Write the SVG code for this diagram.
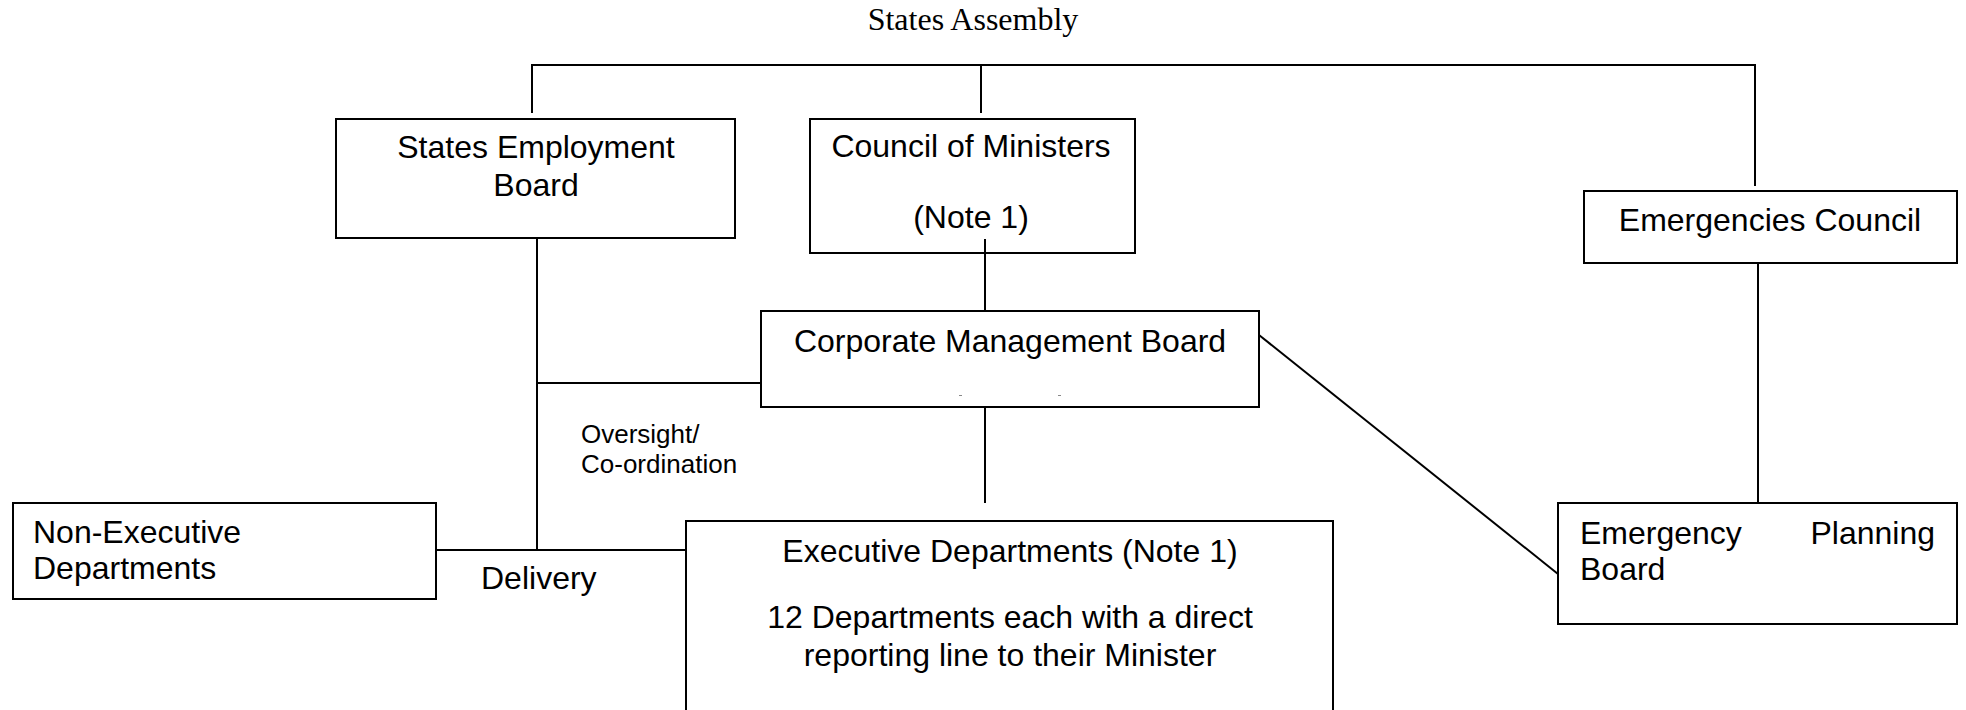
<svg xmlns="http://www.w3.org/2000/svg" width="1966" height="710" viewBox="0 0 1966 710">
<style>
.box{fill:#fff;stroke:#000;stroke-width:2}
.ln{fill:none;stroke:#000;stroke-width:2}
.t{font-family:"Liberation Sans",Arial,sans-serif;font-size:32px;fill:#000}
.c{text-anchor:middle}
.s{font-family:"Liberation Sans",Arial,sans-serif;font-size:26px;fill:#000}
.tt{font-family:"Liberation Serif","Times New Roman",serif;font-size:32px;fill:#000;text-anchor:middle}
</style>
<rect width="1966" height="710" fill="#fff"/>
<g id="connectors">
<polyline class="ln" points="532,113 532,65 1755,65 1755,186"/>
<line class="ln" x1="981" y1="65" x2="981" y2="113"/>
<line class="ln" x1="985" y1="239" x2="985" y2="311"/>
<line class="ln" x1="537" y1="238" x2="537" y2="550"/>
<line class="ln" x1="537" y1="383" x2="761" y2="383"/>
<line class="ln" x1="985" y1="407" x2="985" y2="503"/>
<line class="ln" x1="436" y1="550" x2="686" y2="550"/>
<line class="ln" x1="1758" y1="263" x2="1758" y2="503"/>
<line class="ln" x1="1259" y1="335" x2="1558" y2="574" stroke-width="1.8"/>
</g>
<g id="states-assembly">
<text class="tt" x="973" y="30">States Assembly</text>
</g>
<g id="states-employment-board">
<rect class="box" x="336" y="119" width="399" height="119"/>
<text class="t c" x="536" y="158">States Employment</text>
<text class="t c" x="536" y="196">Board</text>
</g>
<g id="council-of-ministers">
<rect class="box" x="810" y="119" width="325" height="134"/>
<text class="t c" x="971" y="157">Council of Ministers</text>
<text class="t c" x="971" y="228">(Note 1)</text>
</g>
<line class="ln" x1="985" y1="239" x2="985" y2="253"/>
<g id="emergencies-council">
<rect class="box" x="1584" y="191" width="373" height="72"/>
<text class="t c" x="1770" y="231">Emergencies Council</text>
</g>
<g id="corporate-management-board">
<rect class="box" x="761" y="311" width="498" height="96"/>
<text class="t c" x="1010" y="352">Corporate Management Board</text>
<rect x="959" y="395" width="3" height="1" fill="#888"/>
<rect x="1058" y="395" width="3" height="1" fill="#888"/>
</g>
<g id="oversight-label">
<text class="s" x="581" y="443">Oversight/</text>
<text class="s" x="581" y="473">Co-ordination</text>
</g>
<g id="non-executive-departments">
<rect class="box" x="13" y="503" width="423" height="96"/>
<text class="t" x="33" y="543">Non-Executive</text>
<text class="t" x="33" y="579">Departments</text>
</g>
<g id="delivery-label">
<text class="t" x="481" y="589">Delivery</text>
</g>
<g id="executive-departments">
<rect class="box" x="686" y="521" width="647" height="200"/>
<text class="t c" x="1010" y="562">Executive Departments (Note 1)</text>
<text class="t c" x="1010" y="628">12 Departments each with a direct</text>
<text class="t c" x="1010" y="666">reporting line to their Minister</text>
</g>
<g id="emergency-planning-board">
<rect class="box" x="1558" y="503" width="399" height="121"/>
<text class="t" x="1580" y="544">Emergency</text>
<text class="t" x="1935" y="544" text-anchor="end">Planning</text>
<text class="t" x="1580" y="580">Board</text>
</g>
</svg>
